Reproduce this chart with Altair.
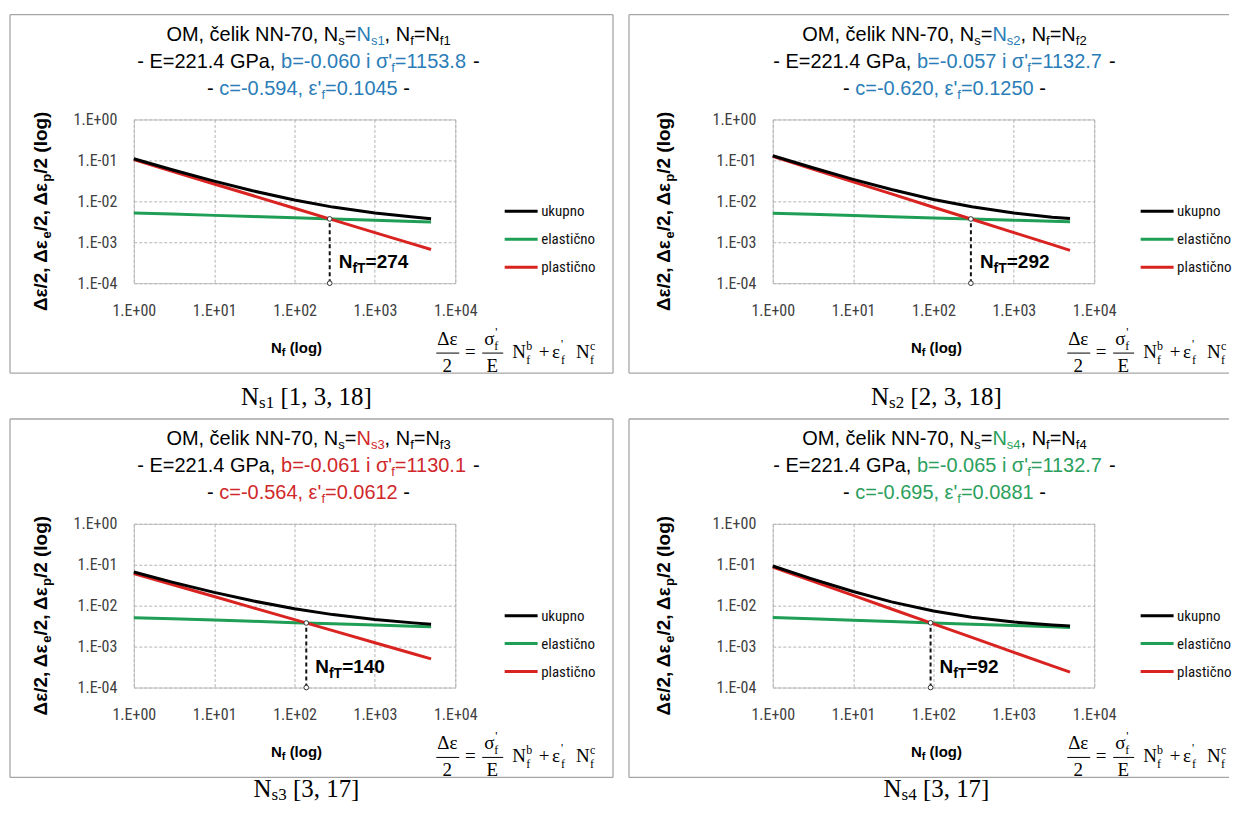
import altair as alt
import pandas as pd

# ---------------- data ----------------
N_VALUES = [1, 3, 10, 30, 100, 300, 1000, 3000, 5000]
SERIES = ["ukupno", "elastično", "plastično"]
SERIES_COLORS = ["#000000", "#1f9e55", "#d92321"]

P1_UKUPNO = [0.1097, 0.0593, 0.0311, 0.0181, 0.01073, 0.00723, 0.00517, 0.00412, 0.00377]
P1_ELASTICNO = [0.00521, 0.00488, 0.00454, 0.00425, 0.00395, 0.00370, 0.00344, 0.00322, 0.00313]
P1_PLASTICNO = [0.1045, 0.0544, 0.0266, 0.01386, 0.00678, 0.00353, 0.001726, 0.000899, 0.000664]

P2_UKUPNO = [0.1301, 0.0681, 0.0345, 0.0194, 0.01112, 0.00734, 0.00518, 0.00411, 0.00379]
P2_ELASTICNO = [0.00512, 0.00481, 0.00449, 0.00421, 0.00393, 0.00370, 0.00345, 0.00324, 0.00315]
P2_PLASTICNO = [0.1250, 0.0633, 0.0300, 0.01518, 0.00719, 0.00364, 0.001725, 0.000873, 0.000636]

P3_UKUPNO = [0.0663, 0.0377, 0.0211, 0.01314, 0.00841, 0.00605, 0.00459, 0.00380, 0.00354]
P3_ELASTICNO = [0.00510, 0.00477, 0.00444, 0.00415, 0.00385, 0.00360, 0.00335, 0.00313, 0.00304]
P3_PLASTICNO = [0.0612, 0.0329, 0.0167, 0.00899, 0.00456, 0.00245, 0.001244, 0.000669, 0.000502]

P4_UKUPNO = [0.0932, 0.0459, 0.0222, 0.01239, 0.00738, 0.00520, 0.00399, 0.00338, 0.00318]
P4_ELASTICNO = [0.00512, 0.00476, 0.00440, 0.00410, 0.00379, 0.00353, 0.00327, 0.00304, 0.00294]
P4_PLASTICNO = [0.0881, 0.0411, 0.01778, 0.00829, 0.00359, 0.001673, 0.000724, 0.000338, 0.000237]

NFT_VALUES = [274, 292, 140, 92]
CROSS_VALUES = [0.00372, 0.00370, 0.00378, 0.00381]
Y_BOTTOM = 0.0001

X_TICKS = [1, 10, 100, 1000, 10000]
X_TICK_LABELS = ["1.E+00", "1.E+01", "1.E+02", "1.E+03", "1.E+04"]
Y_TICKS = [0.0001, 0.001, 0.01, 0.1, 1]
Y_TICK_LABELS = ["1.E-04", "1.E-03", "1.E-02", "1.E-01", "1.E+00"]

E_VALUE = "221.4"
NS_INDEX = ["1", "2", "3", "4"]
B_VALUES = ["-0.060", "-0.057", "-0.061", "-0.065"]
SIGMA_VALUES = ["1153.8", "1132.7", "1130.1", "1132.7"]
C_VALUES = ["-0.594", "-0.620", "-0.564", "-0.695"]
EPS_VALUES = ["0.1045", "0.1250", "0.0612", "0.0881"]
CAPTION_SUB = ["s1", "s2", "s3", "s4"]
CAPTION_REST = [" [1, 3, 18]", " [2, 3, 18]", " [3, 17]", " [3, 17]"]
HIGHLIGHT = ["#2a7db8", "#2a7db8", "#d0282a", "#2ba05c"]

# ---------------- styling ----------------
SANS = "Liberation Sans, Arial, sans-serif"
NARROW = "Liberation Sans Narrow, Arial Narrow, Roboto Condensed, Liberation Sans, sans-serif"
SERIF = "Liberation Serif, Times New Roman, serif"
BOX = "#a6a6a6"
PLOT_W, PLOT_H = 322, 164

REG = {' ': 278, '!': 278, "'": 191, '(': 333, ')': 333, ',': 278, '-': 333, '.': 278, '/': 278,
       '=': 584, '+': 584, 'č': 500, 'σ': 571, 'ε': 446, 'Δ': 668,
       'A': 667, 'B': 667, 'C': 722, 'D': 722, 'E': 667, 'F': 611, 'G': 778, 'H': 722, 'I': 278,
       'K': 667, 'L': 556, 'M': 833, 'N': 722, 'O': 778, 'P': 667, 'R': 722, 'S': 667, 'T': 611,
       'a': 556, 'b': 556, 'c': 500, 'd': 556, 'e': 556, 'f': 278, 'g': 556, 'h': 556, 'i': 222,
       'k': 500, 'l': 222, 'm': 833, 'n': 556, 'o': 556, 'p': 556, 'r': 333, 's': 500, 't': 278,
       'u': 556, 'v': 500, 'x': 500, 'y': 500}
BOLD = {' ': 278, '(': 333, ')': 333, ',': 278, '/': 278, '=': 584, 'N': 722, 'T': 611, 'f': 333,
        'l': 278, 'o': 611, 'g': 611, 'e': 556, 'p': 611, 'Δ': 722, 'ε': 500}
TIMES = {' ': 250, '[': 333, ']': 333, ',': 250, 'N': 722, 's': 389}


def tw(text, size, table):
    total = 0
    for ch in text:
        if ch.isdigit():
            total += 500 if table is TIMES else 556
        else:
            total += table.get(ch, 556)
    return total * size / 1000.0


ONE = pd.DataFrame({"k": [0]})


def txt(text, x, y, size, color="#000000", font=SANS, bold=False, align="left", **kw):
    return alt.Chart(ONE).mark_text(
        text=text, align=align, baseline="alphabetic", font=font, fontSize=size,
        fontWeight="bold" if bold else "normal", color=color, **kw
    ).encode(x=alt.value(x), y=alt.value(y))


def seg_line(segs, cx, base_y, table, font=SANS, bold=False):
    widths = [tw(t, s, table) for t, c, s, dy in segs]
    x = cx - sum(widths) / 2.0
    out = []
    for (t, c, s, dy), w in zip(segs, widths):
        shown = t.strip(" ")
        lead = tw(t[: len(t) - len(t.lstrip(" "))], s, table)
        if shown:
            out.append(txt(shown, x + lead, base_y + dy, s, c, font, bold))
        x += w
    return out


def rot_line(segs, x_base, cy, table, font=SANS, bold=True):
    widths = [tw(t, s, table) for t, c, s, dy in segs]
    start = cy + sum(widths) / 2.0
    out, cum = [], 0.0
    for (t, c, s, dy), w in zip(segs, widths):
        shown = t.strip(" ")
        lead = tw(t[: len(t) - len(t.lstrip(" "))], s, table)
        out.append(alt.Chart(ONE).mark_text(
            text=shown, align="left", baseline="alphabetic", font=font, fontSize=s,
            fontWeight="bold" if bold else "normal", color=c, angle=270, dx=cum + lead, dy=dy
        ).encode(x=alt.value(x_base), y=alt.value(start)))
        cum += w
    return out


def hrule(x1, x2, y, color=BOX, width=1.3):
    return alt.Chart(ONE).mark_rule(color=color, strokeWidth=width).encode(
        x=alt.value(x1), x2=alt.value(x2), y=alt.value(y), y2=alt.value(y))


def vrule(x, y1, y2, color=BOX, width=1.3):
    return alt.Chart(ONE).mark_rule(color=color, strokeWidth=width).encode(
        x=alt.value(x), x2=alt.value(x), y=alt.value(y1), y2=alt.value(y2))


def label_expr(ticks, labels):
    expr = "'" + labels[-1] + "'"
    for t, l in reversed(list(zip(ticks[:-1], labels[:-1]))):
        expr = "datum.value < " + repr(t * 3) + " ? '" + l + "' : " + expr
    return expr


DATA = [
    (P1_UKUPNO, P1_ELASTICNO, P1_PLASTICNO),
    (P2_UKUPNO, P2_ELASTICNO, P2_PLASTICNO),
    (P3_UKUPNO, P3_ELASTICNO, P3_PLASTICNO),
    (P4_UKUPNO, P4_ELASTICNO, P4_PLASTICNO),
]

# per-column / per-row layout (relative to plot area origin)
COL = [
    dict(box_l=-124, box_r=480, right_edge=True, title_cx=175, ytitle_x=-87, xtitle_cx=163,
         leg_x=370, f_x0=302, cap_cx=173),
    dict(box_l=-144, box_r=457, right_edge=False, title_cx=172, ytitle_x=-103, xtitle_cx=164,
         leg_x=367, f_x0=294, cap_cx=164),
]
ROW = [dict(cap_base=286), dict(cap_base=274)]


def panel(i, col, row):
    tot, ela, pla = DATA[i]
    hl = HIGHLIGHT[i]
    c = COL[col]
    df = pd.DataFrame({
        "N": N_VALUES * 3,
        "v": ela + pla + tot,
        "series": [SERIES[1]] * len(N_VALUES) + [SERIES[2]] * len(N_VALUES) + [SERIES[0]] * len(N_VALUES),
    })
    xaxis = alt.Axis(values=X_TICKS, labelExpr=label_expr(X_TICKS, X_TICK_LABELS), title=None,
                     labelFont=NARROW, labelFontSize=16, labelColor="#404040", ticks=False,
                     domain=False, grid=True, gridColor="#b4b4b4", gridDash=[3, 2],
                     labelPadding=19, labelFlush=False, labelOverlap=False)
    yaxis = alt.Axis(values=Y_TICKS, labelExpr=label_expr(Y_TICKS, Y_TICK_LABELS), title=None,
                     labelFont=NARROW, labelFontSize=16, labelColor="#404040", ticks=False,
                     domain=False, grid=True, gridColor="#b4b4b4", gridDash=[3, 2],
                     labelPadding=17, labelFlush=False, labelOverlap=False)
    x = alt.X("N:Q", scale=alt.Scale(type="log", domain=[X_TICKS[0], X_TICKS[-1]], nice=False), axis=xaxis)
    y = alt.Y("v:Q", scale=alt.Scale(type="log", domain=[Y_TICKS[0], Y_TICKS[-1]], nice=False), axis=yaxis)

    legend = alt.Legend(orient="none", legendX=c["leg_x"], legendY=78, title=None,
                        symbolType="stroke", symbolSize=1089, symbolStrokeWidth=3,
                        labelFont=NARROW, labelFontSize=15, labelColor="#111111",
                        labelOffset=2, rowPadding=0, clipHeight=28, padding=0)
    lines = alt.Chart(df).mark_line(strokeWidth=3).encode(
        x=x, y=y,
        color=alt.Color("series:N", scale=alt.Scale(domain=SERIES, range=SERIES_COLORS), legend=legend),
    )

    ndf = pd.DataFrame({"N": [NFT_VALUES[i]], "v": [Y_BOTTOM], "v2": [CROSS_VALUES[i]]})
    pdf = pd.DataFrame({"N": [NFT_VALUES[i], NFT_VALUES[i]], "v": [Y_BOTTOM, CROSS_VALUES[i]]})
    drop = alt.Chart(ndf).mark_rule(color="#111111", strokeWidth=2, strokeDash=[4, 3]).encode(
        x=x, y=y, y2="v2:Q")
    dots = alt.Chart(pdf).mark_point(shape="circle", filled=True, fill="white", stroke="#333333",
                                     strokeWidth=1, size=22, opacity=1).encode(x=x, y=y)

    # N_fT label
    nft_txt = str(NFT_VALUES[i])
    nsegs = [("N", 19, 0), ("fT", 14, 5), ("=" + nft_txt, 19, 0)]
    nft_layers, cum = [], 9.0
    for t, s, dy in nsegs:
        nft_layers.append(alt.Chart(ndf).mark_text(
            text=t, align="left", baseline="alphabetic", font=SANS, fontSize=s, fontWeight="bold",
            color="#000000", dx=cum).encode(x=x, y=alt.value(149 + dy)))
        cum += tw(t, s, BOLD)

    layers = [lines, drop, dots] + nft_layers

    # box around panel
    layers += [hrule(c["box_l"], c["box_r"], -105), hrule(c["box_l"], c["box_r"], 254),
               vrule(c["box_l"], -105, 254)]
    if c["right_edge"]:
        layers.append(vrule(c["box_r"], -105, 254))

    # title (3 lines)
    K = "#000000"
    line1 = [("OM, čelik NN-70, N", K, 20, 0), ("s", K, 13, 4), ("=", K, 20, 0), ("N", hl, 20, 0),
             ("s" + NS_INDEX[i], hl, 13, 4), (", N", K, 20, 0), ("f", K, 13, 4), ("=N", K, 20, 0),
             ("f" + NS_INDEX[i], K, 13, 4)]
    line2 = [("- E=" + E_VALUE + " GPa, ", K, 20, 0), ("b=" + B_VALUES[i] + " i σ'", hl, 20, 0),
             ("f", hl, 13, 4), ("=" + SIGMA_VALUES[i], hl, 20, 0), (" -", K, 20, 0)]
    line3 = [("- ", K, 20, 0), ("c=" + C_VALUES[i] + ", ε'", hl, 20, 0), ("f", hl, 13, 4),
             ("=" + EPS_VALUES[i], hl, 20, 0), (" -", K, 20, 0)]
    layers += seg_line(line1, c["title_cx"], -79, REG)
    layers += seg_line(line2, c["title_cx"], -52, REG)
    layers += seg_line(line3, c["title_cx"], -25, REG)

    # y axis title (rotated, with subscripts)
    ysegs = [("Δε/2, Δε", K, 19, 0), ("e", K, 13, 4), ("/2, Δε", K, 19, 0), ("p", K, 13, 4),
             ("/2 (log)", K, 19, 0)]
    layers += rot_line(ysegs, c["ytitle_x"], 92, BOLD)

    # x axis title
    xsegs = [("N", K, 15, 0), ("f", K, 11, 3), (" (log)", K, 15, 0)]
    layers += seg_line(xsegs, c["xtitle_cx"], 234, BOLD, bold=True)

    # formula
    x0 = c["f_x0"]
    F = SERIF
    layers += [
        txt("Δε", x0 + 12, 226, 19, font=F, align="center"),
        hrule(x0 + 1, x0 + 24, 234, color="#000000", width=1),
        txt("2", x0 + 12, 253, 19, font=F, align="center"),
        txt("=", x0 + 35, 239, 19, font=F, align="center"),
        txt("σ", x0 + 49, 226, 19, font=F),
        txt("'", x0 + 60, 217, 12, font=F),
        txt("f", x0 + 59, 231, 12, font=F),
        hrule(x0 + 47, x0 + 68, 234, color="#000000", width=1),
        txt("E", x0 + 57, 253, 19, font=F, align="center"),
        txt("N", x0 + 77, 239, 19, font=F),
        txt("b", x0 + 91, 231, 12, font=F),
        txt("f", x0 + 91, 245, 12, font=F),
        txt("+", x0 + 109, 239, 19, font=F, align="center"),
        txt("ε", x0 + 117, 239, 19, font=F),
        txt("'", x0 + 126, 229, 12, font=F),
        txt("f", x0 + 126, 245, 12, font=F),
        txt("N", x0 + 141, 239, 19, font=F),
        txt("c", x0 + 155, 231, 12, font=F),
        txt("f", x0 + 155, 245, 12, font=F),
    ]

    # caption below the panel
    csegs = [("N", K, 25, 0), (CAPTION_SUB[i], K, 17, 3), (CAPTION_REST[i], K, 25, 0)]
    layers += seg_line(csegs, c["cap_cx"], ROW[row]["cap_base"], TIMES, font=SERIF)

    return alt.layer(*layers).properties(width=PLOT_W, height=PLOT_H)


chart = (
    alt.concat(panel(0, 0, 0), panel(1, 1, 0), panel(2, 0, 1), panel(3, 1, 1),
               columns=2, spacing={"row": 241, "column": 318}, bounds="flush")
    .resolve_scale(color="independent")
    .properties(padding={"left": 0, "top": 4, "right": 0, "bottom": 0}, background="white")
    .configure_view(stroke="#c4c4c4", strokeWidth=1)
)

chart.save("out.html", embed_options={"renderer": "svg", "actions": False})
